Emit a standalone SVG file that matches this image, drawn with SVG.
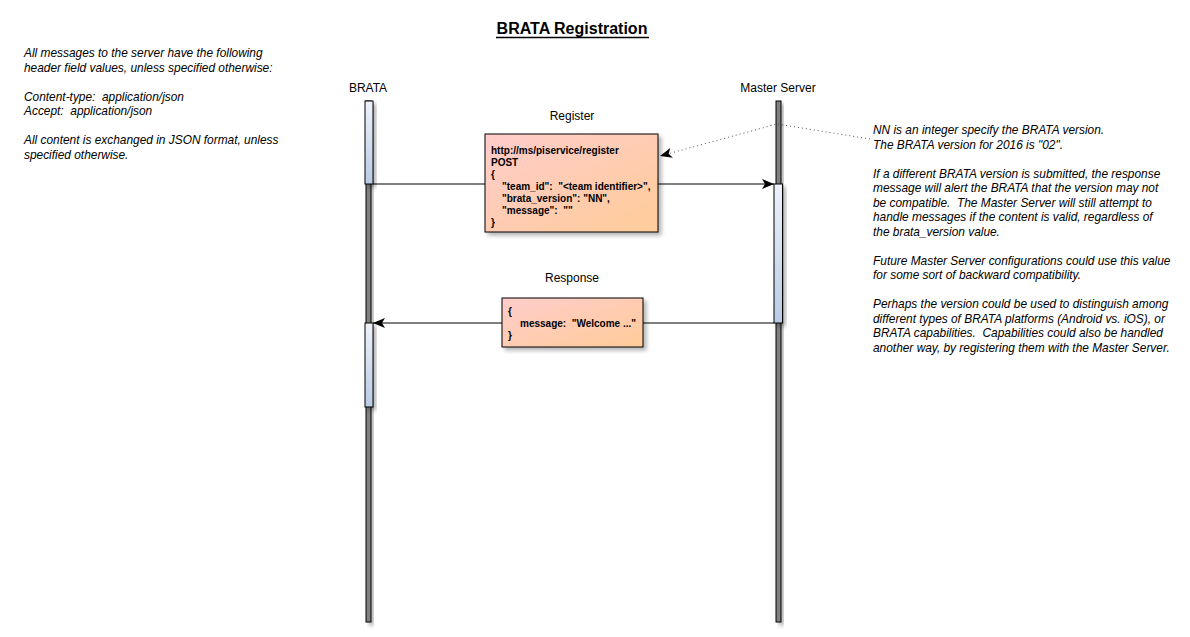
<svg xmlns="http://www.w3.org/2000/svg" width="1190" height="637" viewBox="0 0 1190 637">
<defs>
<linearGradient id="act" x1="0" y1="0" x2="0" y2="1"><stop offset="0" stop-color="#eef2fa"/><stop offset="1" stop-color="#b9cbe4"/></linearGradient>
<linearGradient id="msg" x1="0" y1="0" x2="1" y2="1"><stop offset="0" stop-color="#ffcccc"/><stop offset="1" stop-color="#ffcc99"/></linearGradient>
<filter id="sh" x="-30%" y="-10%" width="180%" height="130%"><feGaussianBlur in="SourceAlpha" stdDeviation="2"/><feOffset dx="3" dy="3"/><feComponentTransfer><feFuncA type="linear" slope="0.3"/></feComponentTransfer><feMerge><feMergeNode/><feMergeNode in="SourceGraphic"/></feMerge></filter>
<marker id="ah" viewBox="0 0 12 10" refX="12" refY="5" markerWidth="12" markerHeight="10" markerUnits="userSpaceOnUse" orient="auto"><path d="M0,0 L12,5 L0,10 L3,5 Z" fill="#000"/></marker>
</defs>
<style>
text{font-family:"Liberation Sans",Arial,sans-serif;fill:#000}
.note{font-size:11.9px;font-style:italic}
.lbl{font-size:12px}
.code{font-size:10px;font-weight:bold;white-space:pre}
.life{fill:#808080;stroke:#000;stroke-width:1}
.act{fill:url(#act);stroke:#000;stroke-width:1}
.box{fill:url(#msg);stroke:#000;stroke-width:1}
.msgline{stroke:#000;stroke-width:1;fill:none}
</style>
<text x="572" y="34" text-anchor="middle" font-size="16" font-weight="bold">BRATA Registration</text>
<line x1="496" y1="37.5" x2="649" y2="37.5" stroke="#000" stroke-width="1.5"/>
<g id="header-note" class="note">
<text x="24" y="57">All messages to the server have the following</text>
<text x="24" y="71.5">header field values, unless specified otherwise:</text>
<text x="24" y="100.5" xml:space="preserve">Content-type:  application/json</text>
<text x="24" y="115" xml:space="preserve">Accept:  application/json</text>
<text x="24" y="144">All content is exchanged in JSON format, unless</text>
<text x="24" y="158.5">specified otherwise.</text>
</g>
<g id="brata">
<text class="lbl" x="368" y="92" text-anchor="middle">BRATA</text>
<rect class="life" x="366" y="101" width="5" height="521" filter="url(#sh)"/>
<rect class="act" x="365" y="101" width="8" height="83" filter="url(#sh)"/>
<rect class="act" x="365" y="323" width="8" height="84" filter="url(#sh)"/>
</g>
<g id="master-server">
<text class="lbl" x="778" y="92" text-anchor="middle">Master Server</text>
<rect class="life" x="776" y="101" width="5" height="521" filter="url(#sh)"/>
<rect class="act" x="774" y="184" width="8.5" height="139" filter="url(#sh)"/>
</g>
<g id="connectors">
<line class="msgline" x1="373" y1="184" x2="774" y2="184" marker-end="url(#ah)"/>
<line class="msgline" x1="774" y1="323" x2="373" y2="323" marker-end="url(#ah)"/>
<polyline points="870,139 777,124 660,156" fill="none" stroke="#555" stroke-width="1" stroke-dasharray="1,3" marker-end="url(#ah)"/>
</g>
<g id="register">
<text class="lbl" x="572" y="120" text-anchor="middle">Register</text>
<rect class="box" x="485" y="134" width="173" height="98" filter="url(#sh)"/>
<text class="code" x="491" y="153.5">http://ms/piservice/register</text>
<text class="code" x="491" y="165.5">POST</text>
<text class="code" x="491" y="177.5">{</text>
<text class="code" x="502" y="189.5" xml:space="preserve">"team_id":  "&lt;team identifier&gt;",</text>
<text class="code" x="502" y="201.5" xml:space="preserve">"brata_version": "NN",</text>
<text class="code" x="502" y="213.5" xml:space="preserve">"message":  ""</text>
<text class="code" x="491" y="225.5">}</text>
</g>
<g id="response">
<text class="lbl" x="572" y="282" text-anchor="middle">Response</text>
<rect class="box" x="502" y="298" width="141" height="49" filter="url(#sh)"/>
<text class="code" x="508" y="315">{</text>
<text class="code" x="520" y="327" xml:space="preserve">message:  "Welcome ..."</text>
<text class="code" x="508" y="339">}</text>
</g>
<g id="version-note" class="note">
<text x="873" y="134">NN is an integer specify the BRATA version.</text>
<text x="873" y="148.5">The BRATA version for 2016 is "02".</text>
<text x="873" y="177.5">If a different BRATA version is submitted, the response</text>
<text x="873" y="192">message will alert the BRATA that the version may not</text>
<text x="873" y="206.5" xml:space="preserve">be compatible.  The Master Server will still attempt to</text>
<text x="873" y="221">handle messages if the content is valid, regardless of</text>
<text x="873" y="235.5">the brata_version value.</text>
<text x="873" y="264.5">Future Master Server configurations could use this value</text>
<text x="873" y="279">for some sort of backward compatibility.</text>
<text x="873" y="308">Perhaps the version could be used to distinguish among</text>
<text x="873" y="322.5">different types of BRATA platforms (Android vs. iOS), or</text>
<text x="873" y="337" xml:space="preserve">BRATA capabilities.  Capabilities could also be handled</text>
<text x="873" y="351.5">another way, by registering them with the Master Server.</text>
</g>
</svg>
